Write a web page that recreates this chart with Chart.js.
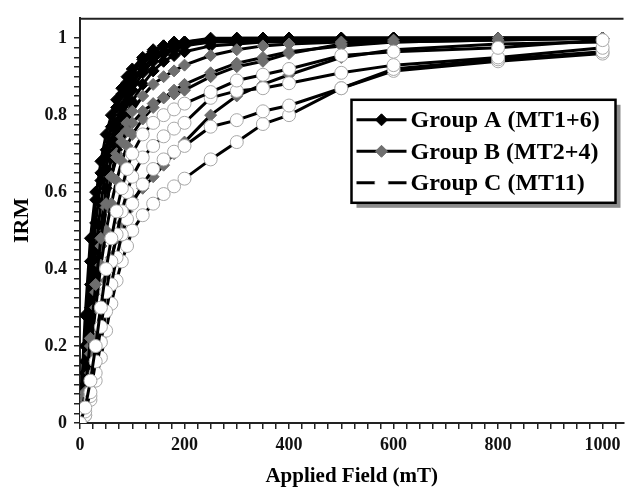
<!DOCTYPE html>
<html>
<head>
<meta charset="utf-8">
<script src="https://cdn.jsdelivr.net/npm/chart.js@4.4.0/dist/chart.umd.min.js"></script>
<style>
  html, body { margin: 0; padding: 0; background: #fff; }
  canvas { display: block; }
</style>
</head>
<body>
<canvas id="irm" width="631" height="487"></canvas>
<script>
// Applied field steps (mT)
const fields = [0, 10, 20, 30, 40, 50, 60, 70, 80, 90, 100, 120, 140, 160, 180, 200, 250, 300, 350, 400, 500, 600, 800, 1000];

// Group A (MT1+6)
const a1 = [0, 0.28, 0.48, 0.60, 0.65, 0.69, 0.73, 0.78, 0.82, 0.86, 0.885, 0.93, 0.965, 0.98, 0.99, 0.99, 1, 1, 1, 1, 1, 1, 1, 1];
const a2 = [0, 0.20, 0.42, 0.58, 0.68, 0.75, 0.80, 0.84, 0.87, 0.90, 0.92, 0.95, 0.97, 0.98, 0.985, 0.99, 0.995, 1, 1, 1, 1, 1, 1, 1];
const a3 = [0, 0.16, 0.36, 0.52, 0.63, 0.71, 0.77, 0.82, 0.855, 0.885, 0.91, 0.945, 0.965, 0.98, 0.985, 0.99, 0.995, 0.995, 1, 1, 1, 1, 1, 1];
const a4 = [0, 0.13, 0.30, 0.45, 0.57, 0.66, 0.73, 0.78, 0.82, 0.855, 0.88, 0.92, 0.95, 0.965, 0.975, 0.985, 0.99, 0.995, 0.995, 1, 1, 1, 1, 1];
const a5 = [0, 0.10, 0.25, 0.39, 0.51, 0.61, 0.69, 0.75, 0.80, 0.835, 0.865, 0.91, 0.94, 0.96, 0.97, 0.98, 0.99, 0.99, 0.995, 0.995, 1, 1, 1, 1];
const a6 = [0, 0.08, 0.21, 0.34, 0.46, 0.56, 0.64, 0.71, 0.76, 0.80, 0.835, 0.88, 0.915, 0.94, 0.955, 0.965, 0.98, 0.985, 0.99, 0.99, 0.995, 1, 1, 1];

// Group B (MT2+4)
const b1 = [0, 0.08, 0.22, 0.36, 0.48, 0.57, 0.64, 0.69, 0.73, 0.76, 0.78, 0.81, 0.83, 0.845, 0.855, 0.865, 0.90, 0.926, 0.94, 0.96, 0.985, 0.99, 0.995, 1];
const b2 = [0, 0.06, 0.18, 0.30, 0.41, 0.50, 0.57, 0.63, 0.68, 0.72, 0.75, 0.79, 0.82, 0.845, 0.865, 0.88, 0.91, 0.935, 0.95, 0.965, 0.98, 0.99, 0.995, 1];
const b3 = [0, 0.05, 0.13, 0.22, 0.30, 0.37, 0.43, 0.48, 0.52, 0.55, 0.58, 0.61, 0.64, 0.67, 0.70, 0.73, 0.80, 0.85, 0.88, 0.905, 0.95, 0.97, 0.985, 0.99];
const b4 = [0, 0.07, 0.20, 0.34, 0.46, 0.56, 0.64, 0.70, 0.745, 0.78, 0.81, 0.85, 0.88, 0.90, 0.915, 0.93, 0.955, 0.97, 0.98, 0.985, 0.99, 0.995, 1, 1];

// Group C (MT11)
const c1 = [0, 0.04, 0.11, 0.20, 0.30, 0.40, 0.48, 0.55, 0.61, 0.66, 0.70, 0.75, 0.78, 0.80, 0.815, 0.83, 0.86, 0.89, 0.905, 0.92, 0.955, 0.965, 0.975, 0.995];
const c2 = [0, 0.03, 0.08, 0.16, 0.25, 0.34, 0.42, 0.49, 0.55, 0.60, 0.64, 0.69, 0.72, 0.745, 0.765, 0.78, 0.845, 0.863, 0.87, 0.883, 0.91, 0.93, 0.95, 0.975];
const c3 = [0, 0.02, 0.07, 0.13, 0.21, 0.29, 0.36, 0.43, 0.49, 0.53, 0.57, 0.62, 0.66, 0.685, 0.705, 0.72, 0.77, 0.787, 0.81, 0.825, 0.87, 0.92, 0.945, 0.965];
const c4 = [0, 0.02, 0.06, 0.11, 0.17, 0.24, 0.31, 0.37, 0.42, 0.46, 0.50, 0.54, 0.57, 0.595, 0.615, 0.635, 0.685, 0.73, 0.777, 0.80, 0.87, 0.915, 0.94, 0.96];

const legendLabels = ['Group A (MT1+6)', 'Group B (MT2+4)', 'Group C (MT11)'];
const xTickLabels = [0, 200, 400, 600, 800, 1000];
const yTickLabels = ['0', '0.2', '0.4', '0.6', '0.8', '1'];

const serif = "'Liberation Serif', 'Times New Roman', serif";

// marker look per group
const groupStyles = [
  { pointStyle: 'rectRot', pointRadius: 6, pointBackgroundColor: '#000', pointBorderColor: '#000', pointBorderWidth: 1 },
  { pointStyle: 'rectRot', pointRadius: 6, pointBackgroundColor: '#6f6f6f', pointBorderColor: '#6f6f6f', pointBorderWidth: 1 },
  { pointStyle: 'circle', pointRadius: 6.5, pointBackgroundColor: '#fff', pointBorderColor: '#a8a8a8', pointBorderWidth: 1 }
];

const groups = [[a1, a2, a3, a4, a5, a6], [b1, b2, b3, b4], [c1, c2, c3, c4]];

const datasets = [];
groups.forEach((series, g) => {
  series.forEach((ys, i) => {
    datasets.push(Object.assign({
      label: legendLabels[g] + ' ' + (i + 1),
      data: fields.map((x, k) => ({ x: x, y: ys[k] })),
      borderColor: '#000',
      borderWidth: 3,
      tension: 0,
      order: 2 - g
    }, groupStyles[g]));
  });
});

// minor ticks every 25 mT and every 0.025
const xTicks = [];
for (let v = 0; v <= 1025; v += 25) xTicks.push(v);
const yTicks = [];
for (let k = 0; k <= 40; k++) yTicks.push(k * 25 / 1000);

const frame = {
  id: 'frame',
  afterDraw(chart) {
    const { ctx, chartArea } = chart;
    ctx.save();
    ctx.strokeStyle = '#222';
    ctx.lineWidth = 2;
    ctx.beginPath();
    ctx.moveTo(chartArea.left, chartArea.top + 1);
    ctx.lineTo(chartArea.right, chartArea.top + 1);
    ctx.stroke();
    ctx.restore();
  }
};

const groupLegend = {
  id: 'groupLegend',
  afterDraw(chart) {
    const { ctx, chartArea } = chart;
    const w = 264, h = 103;
    const x = chartArea.right - 8 - w;
    const y = chartArea.top + 82;
    ctx.save();
    ctx.fillStyle = '#8c8c8c';
    ctx.fillRect(x + 5, y + 5, w, h);
    ctx.fillStyle = '#fff';
    ctx.fillRect(x, y, w, h);
    ctx.lineWidth = 2.5;
    ctx.strokeStyle = '#000';
    ctx.strokeRect(x, y, w, h);

    legendLabels.forEach((label, i) => {
      const cy = y + 20 + i * 31.5;
      const st = groupStyles[i];
      ctx.strokeStyle = '#000';
      ctx.lineWidth = 3;
      ctx.beginPath();
      ctx.moveTo(x + 5, cy);
      ctx.lineTo(x + 55, cy);
      ctx.stroke();
      ctx.fillStyle = st.pointBackgroundColor;
      ctx.strokeStyle = i === 2 ? '#fff' : st.pointBorderColor;
      ctx.lineWidth = 1;
      Chart.helpers.drawPoint(ctx, {
        pointStyle: st.pointStyle,
        radius: st.pointRadius,
        borderWidth: 1,
        rotation: 0
      }, x + 30, cy);
      ctx.fillStyle = '#000';
      ctx.font = 'bold 24px ' + serif;
      ctx.textBaseline = 'middle';
      ctx.textAlign = 'left';
      ctx.fillText(label, x + 59, cy + 1);
    });
    ctx.restore();
  }
};

new Chart(document.getElementById('irm'), {
  type: 'line',
  data: { datasets: datasets },
  options: {
    responsive: false,
    animation: false,
    layout: { padding: { top: 8, right: 1, left: 0, bottom: 0 } },
    plugins: {
      legend: { display: false },
      tooltip: { enabled: false }
    },
    scales: {
      x: {
        type: 'linear',
        min: 0,
        max: 1040,
        afterBuildTicks: (scale) => { scale.ticks = xTicks.map(v => ({ value: v })); },
        afterFit: (scale) => { scale.height = 64; },
        ticks: {
          autoSkip: false,
          maxRotation: 0,
          padding: 6,
          color: '#111',
          font: { family: serif, weight: 'bold', size: 18 },
          callback: (v) => xTickLabels.includes(v) ? String(v) : ''
        },
        grid: { drawOnChartArea: false, drawTicks: true, tickLength: 6, color: '#222', lineWidth: 1.5 },
        border: { display: true, color: '#222', width: 2 },
        title: {
          display: true,
          text: 'Applied Field (mT)',
          color: '#000',
          font: { family: serif, weight: 'bold', size: 21, lineHeight: 1 },
          padding: { top: 0, bottom: 0 }
        }
      },
      y: {
        min: 0,
        max: 1.053,
        afterBuildTicks: (scale) => { scale.ticks = yTicks.map(v => ({ value: v })); },
        afterFit: (scale) => { scale.width = 80; },
        ticks: {
          autoSkip: false,
          padding: 7,
          color: '#111',
          font: { family: serif, weight: 'bold', size: 18 },
          callback: (v, i) => i % 8 === 0 ? yTickLabels[i / 8] : ''
        },
        grid: { drawOnChartArea: false, drawTicks: true, tickLength: 6, color: '#222', lineWidth: 1.5 },
        border: { display: true, color: '#222', width: 2 },
        title: {
          display: true,
          text: 'IRM',
          color: '#000',
          font: { family: serif, weight: 'bold', size: 22, lineHeight: 1.2 },
          padding: { top: 9, bottom: 0 }
        }
      }
    }
  },
  plugins: [frame, groupLegend]
});
</script>
</body>
</html>
